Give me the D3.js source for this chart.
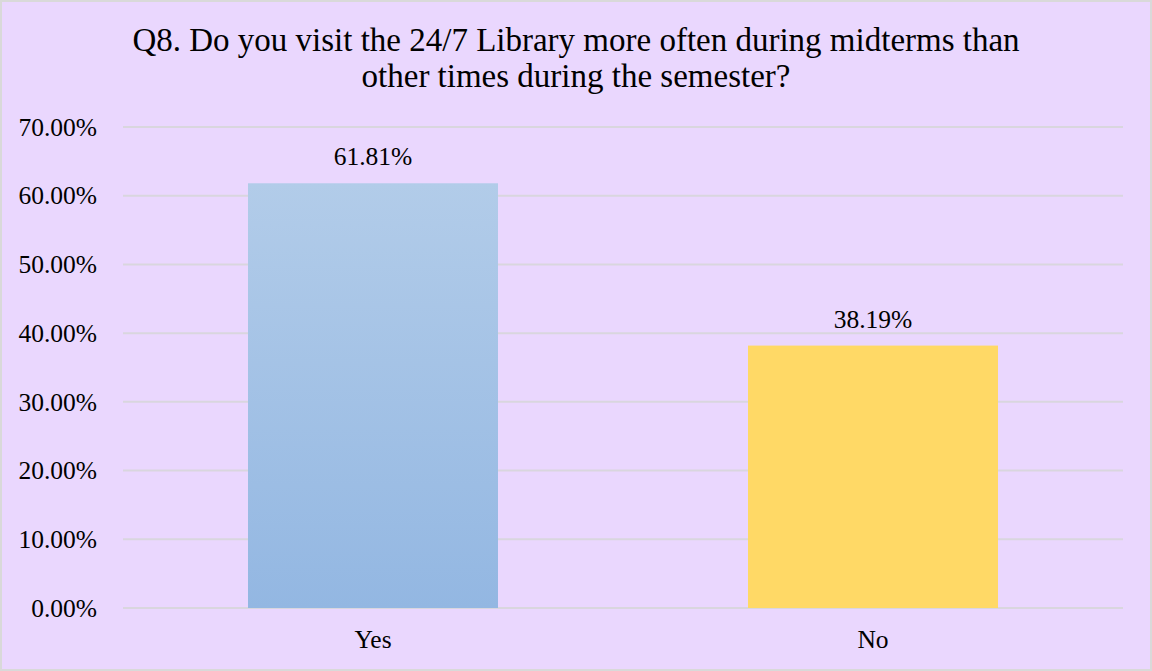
<!DOCTYPE html>
<html>
<head>
<meta charset="utf-8">
<script src="https://cdn.jsdelivr.net/npm/d3@7"></script>
<style>
  body { margin: 0; background: #fff; }
  svg text { font-family: "Liberation Serif", "Times New Roman", serif; fill: #000; }
</style>
</head>
<body>
<div id="chart"></div>
<script>
// chart data
var categories = ["Yes", "No"];
var values = [61.81, 38.19];
var valueLabels = ["61.81%", "38.19%"];
var yTicks = [0, 10, 20, 30, 40, 50, 60, 70];
var titleLines = ["Q8. Do you visit the 24/7 Library more often during midterms than",
                  "other times during the semester?"];

window.onload = function() {
	drawChart();
};

function drawChart() {
	var w = 1152;
	var h = 671;
	var left = 123, right = 1123, top = 127, bottom = 608;

	var svg = d3.select("#chart")
	            .append("svg")
	            .attr("width", w)
	            .attr("height", h);

	// gradient for the first bar
	var grad = svg.append("defs").append("linearGradient")
	              .attr("id", "blueGrad")
	              .attr("x1", 0).attr("y1", 0).attr("x2", 0).attr("y2", 1);
	grad.append("stop").attr("offset", "0%").attr("stop-color", "#B2CCE9");
	grad.append("stop").attr("offset", "100%").attr("stop-color", "#93B7E2");

	// background + border
	svg.append("rect")
	   .attr("x", 1).attr("y", 1)
	   .attr("width", w - 2).attr("height", h - 2)
	   .attr("fill", "#EAD7FE")
	   .attr("stroke", "#D9D9D9")
	   .attr("stroke-width", 2);

	var x = d3.scaleBand()
	          .domain(categories)
	          .range([left, right])
	          .paddingInner(0.5)
	          .paddingOuter(0.25);
	var y = d3.scaleLinear()
	          .domain([0, 70])
	          .range([bottom, top]);

	// gridlines
	svg.append("g")
	   .selectAll("line")
	   .data(yTicks)
	   .enter()
	   .append("line")
	   .attr("x1", left).attr("x2", right)
	   .attr("y1", function(d) { return y(d); })
	   .attr("y2", function(d) { return y(d); })
	   .attr("stroke", "#D9D6DE")
	   .attr("stroke-width", 2);

	// y axis labels
	var yAxis = d3.axisLeft(y)
	              .tickValues(yTicks)
	              .tickSize(0)
	              .tickPadding(26)
	              .tickFormat(function(d) { return d.toFixed(2) + "%"; });
	var gy = svg.append("g")
	            .attr("transform", "translate(" + left + ",0)")
	            .call(yAxis);
	gy.select(".domain").remove();
	gy.selectAll("text").style("font-size", "25.5px");

	// bars
	svg.selectAll(".bar")
	   .data(values)
	   .enter()
	   .append("rect")
	   .attr("class", "bar")
	   .attr("x", function(d, i) { return x(categories[i]); })
	   .attr("y", function(d) { return y(d); })
	   .attr("width", x.bandwidth())
	   .attr("height", function(d) { return y(0) - y(d); })
	   .attr("fill", function(d, i) { return i == 0 ? "url(#blueGrad)" : "#FFD966"; });

	// data labels
	svg.selectAll(".vlabel")
	   .data(values)
	   .enter()
	   .append("text")
	   .attr("class", "vlabel")
	   .attr("x", function(d, i) { return x(categories[i]) + x.bandwidth() / 2; })
	   .attr("y", function(d) { return y(d) - 18; })
	   .attr("text-anchor", "middle")
	   .style("font-size", "25.5px")
	   .text(function(d, i) { return valueLabels[i]; });

	// x axis labels
	var xAxis = d3.axisBottom(x).tickSize(0).tickPadding(22);
	var gx = svg.append("g")
	            .attr("transform", "translate(0," + bottom + ")")
	            .call(xAxis);
	gx.select(".domain").remove();
	gx.selectAll("text").style("font-size", "25.5px");

	// title
	svg.selectAll(".title")
	   .data(titleLines)
	   .enter()
	   .append("text")
	   .attr("class", "title")
	   .attr("x", 576)
	   .attr("y", function(d, i) { return 51 + i * 36; })
	   .attr("text-anchor", "middle")
	   .style("font-size", "33px")
	   .text(function(d) { return d; });
}
</script>
</body>
</html>
